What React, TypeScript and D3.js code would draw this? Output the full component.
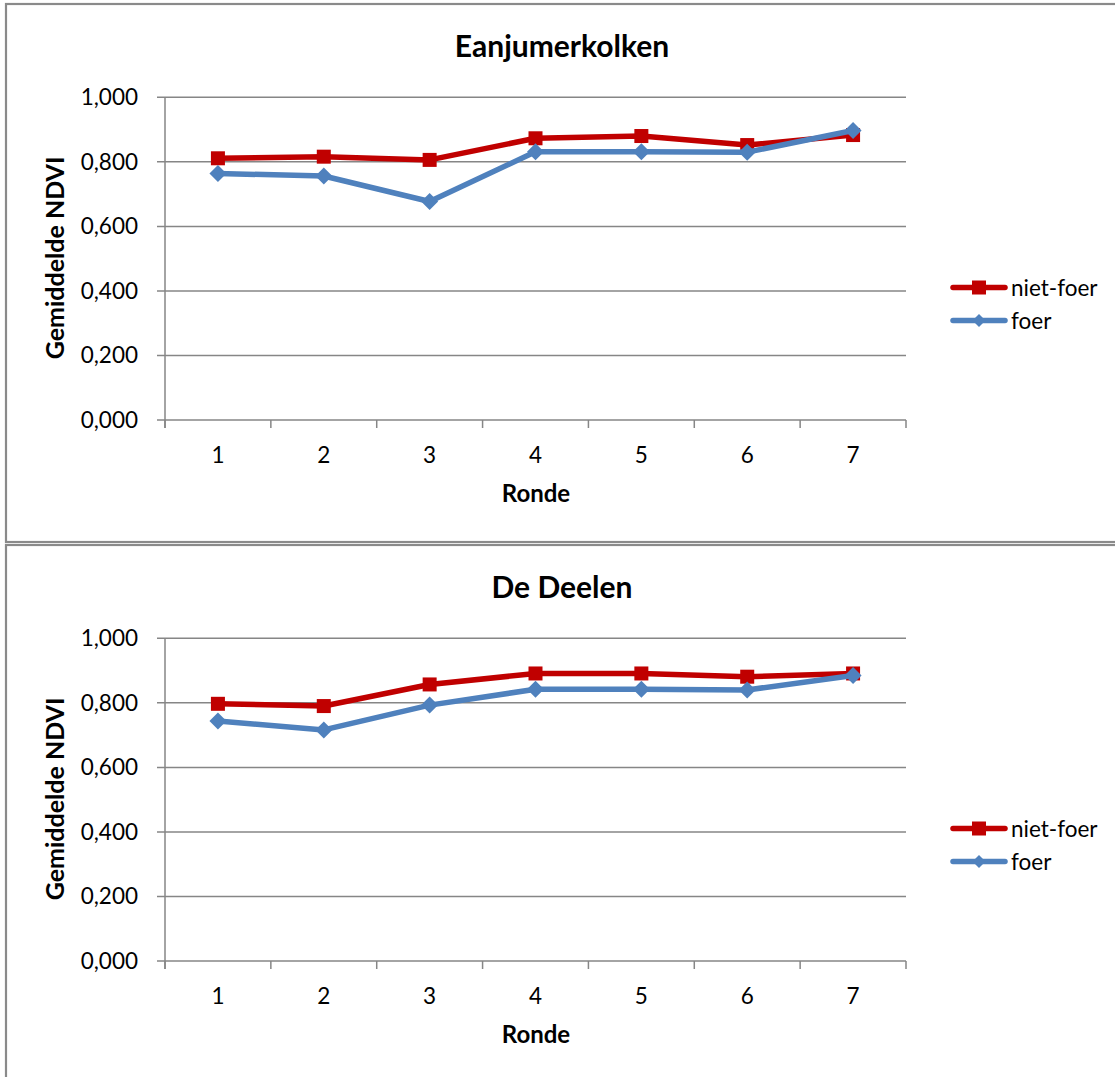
import React from "react";
import * as d3 from "d3";

// Rounds on the x axis
const rondes = ["1", "2", "3", "4", "5", "6", "7"];

// Eanjumerkolken – mean NDVI per round
const eanjNietFoer = [0.811, 0.816, 0.806, 0.873, 0.880, 0.852, 0.883];
const eanjFoer = [0.764, 0.756, 0.677, 0.831, 0.831, 0.830, 0.897];

// De Deelen – mean NDVI per round
const deelenNietFoer = [0.797, 0.790, 0.857, 0.891, 0.891, 0.881, 0.891];
const deelenFoer = [0.744, 0.716, 0.793, 0.842, 0.842, 0.840, 0.885];

const yTicks = [0, 0.2, 0.4, 0.6, 0.8, 1.0];
const seriesNames = ["niet-foer", "foer"];

const RED = "#C00000";
const BLUE = "#4F81BD";
const GRID = "#868686";
const FONT = "Lato, 'Open Sans', sans-serif";

const nlLocale = d3.formatLocale({
  decimal: ",",
  thousands: ".",
  grouping: [3],
  currency: ["€", ""],
});
const fmt = nlLocale.format(".3f");

function diamondPath(cx: number, cy: number, r: number) {
  return `M${cx},${cy - r}L${cx + r},${cy}L${cx},${cy + r}L${cx - r},${cy}Z`;
}

type ChartProps = {
  top: number;
  title: string;
  nietFoer: number[];
  foer: number[];
};

function Chart({ top, title, nietFoer, foer }: ChartProps) {
  const left = 165;
  const right = 906;
  const yTop = top + 97.3;
  const yBottom = top + 420;

  const x = d3.scaleBand<string>().domain(rondes).range([left, right]).padding(0);
  const y = d3.scaleLinear().domain([0, 1]).range([yBottom, yTop]);
  const cx = (r: string) => (x(r) as number) + x.bandwidth() / 2;

  const line = d3
    .line<number>()
    .x((_, i) => cx(rondes[i]))
    .y((v) => y(v));

  const boundaries = rondes.map((r) => x(r) as number).concat([right]);

  const legendY1 = top + 287.5;
  const legendY2 = top + 320.5;

  return (
    <g>
      {/* chart frame */}
      <rect
        x={6}
        y={top + 4}
        width={1130}
        height={538}
        fill="#fff"
        stroke="#8a8a8a"
        strokeWidth={2.2}
      />
      <text
        x={562}
        y={top + 57}
        textAnchor="middle"
        fontFamily={FONT}
        fontWeight={700}
        fontSize={30}
        fill="#000"
      >
        {title}
      </text>

      {/* horizontal gridlines and y ticks */}
      {yTicks.map((t) => (
        <g key={t}>
          <line x1={157} x2={right} y1={y(t)} y2={y(t)} stroke={GRID} strokeWidth={1.5} />
          <text
            x={138}
            y={y(t) + 8}
            textAnchor="end"
            fontFamily={FONT}
            fontSize={22.5}
            fill="#000"
          >
            {fmt(t)}
          </text>
        </g>
      ))}

      {/* y axis line */}
      <line x1={left} x2={left} y1={yTop} y2={yBottom + 8} stroke={GRID} strokeWidth={1.5} />

      {/* x axis ticks and labels */}
      {boundaries.map((b, i) => (
        <line key={"b" + i} x1={b} x2={b} y1={yBottom} y2={yBottom + 8} stroke={GRID} strokeWidth={1.5} />
      ))}
      {rondes.map((r) => (
        <text
          key={r}
          x={cx(r)}
          y={yBottom + 43}
          textAnchor="middle"
          fontFamily={FONT}
          fontSize={22.5}
          fill="#000"
        >
          {r}
        </text>
      ))}

      <text
        x={536}
        y={yBottom + 82}
        textAnchor="middle"
        fontFamily={FONT}
        fontWeight={700}
        fontSize={24}
        fill="#000"
      >
        Ronde
      </text>
      <text
        transform={`translate(64,${top + 258}) rotate(-90)`}
        textAnchor="middle"
        fontFamily={FONT}
        fontWeight={700}
        fontSize={25}
        fill="#000"
      >
        Gemiddelde NDVI
      </text>

      {/* niet-foer series */}
      <path d={line(nietFoer) ?? ""} fill="none" stroke={RED} strokeWidth={5.5} strokeLinejoin="round" />
      {nietFoer.map((v, i) => (
        <rect key={"nf" + i} x={cx(rondes[i]) - 7} y={y(v) - 7} width={14} height={14} fill={RED} />
      ))}

      {/* foer series */}
      <path d={line(foer) ?? ""} fill="none" stroke={BLUE} strokeWidth={5.5} strokeLinejoin="round" />
      {foer.map((v, i) => (
        <path key={"f" + i} d={diamondPath(cx(rondes[i]), y(v), 8.5)} fill={BLUE} />
      ))}

      {/* legend */}
      <line x1={953} x2={1005} y1={legendY1} y2={legendY1} stroke={RED} strokeWidth={5.5} strokeLinecap="round" />
      <rect x={972} y={legendY1 - 7} width={14} height={14} fill={RED} />
      <text x={1011} y={legendY1 + 8} fontFamily={FONT} fontSize={22.5} fill="#000">
        {seriesNames[0]}
      </text>
      <line x1={953} x2={1005} y1={legendY2} y2={legendY2} stroke={BLUE} strokeWidth={5.5} strokeLinecap="round" />
      <path d={diamondPath(979, legendY2, 6.5)} fill={BLUE} />
      <text x={1011} y={legendY2 + 8} fontFamily={FONT} fontSize={22.5} fill="#000">
        {seriesNames[1]}
      </text>
    </g>
  );
}

export default function App() {
  return (
    <svg
      width={1115}
      height={1077}
      style={{ position: "absolute", left: 0, top: 0, background: "#fff" }}
    >
      <rect x={0} y={0} width={1115} height={1077} fill="#fff" />
      <Chart top={0} title="Eanjumerkolken" nietFoer={eanjNietFoer} foer={eanjFoer} />
      <Chart top={541} title="De Deelen" nietFoer={deelenNietFoer} foer={deelenFoer} />
    </svg>
  );
}
